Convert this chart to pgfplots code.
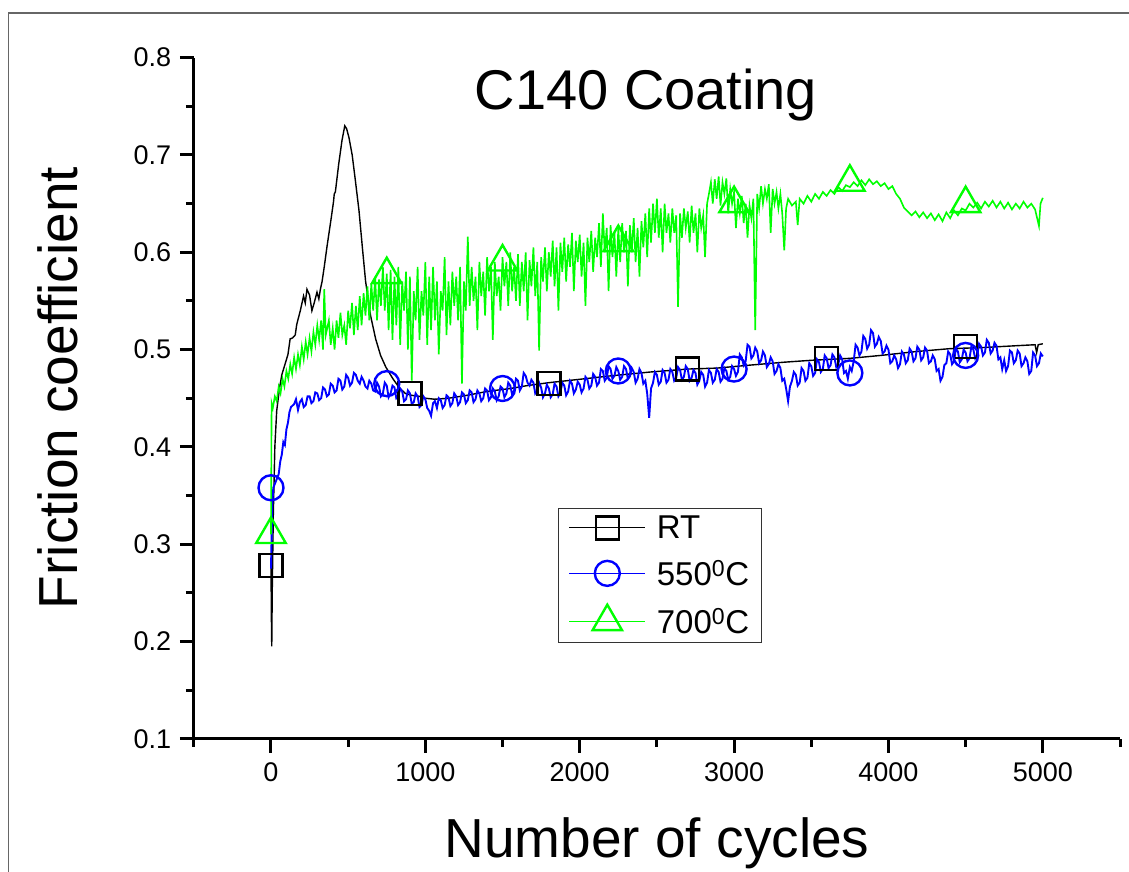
\documentclass[border=0pt]{standalone}
\usepackage{fontspec}
\setmainfont{Liberation Sans}
\usepackage{pgfplots}
\pgfplotsset{compat=1.18}
\definecolor{ogreen}{RGB}{0,255,0}
\definecolor{oblue}{RGB}{0,0,255}
\begin{document}
\begin{tikzpicture}
\useasboundingbox (0,0) rectangle (1129pt,872pt);
\draw[black!60, line width=1.6pt] (8.3pt,-2pt) -- (8.3pt,858.7pt) -- (1131pt,858.7pt);
\begin{axis}[
  at={(193.8pt,133.2pt)}, anchor=south west,
  scale only axis, width=926.2pt, height=681.1pt,
  xmin=-500, xmax=5500, ymin=0.1, ymax=0.8,
  axis lines*=left,
  axis line style={line width=3.2pt, black},
  xtick={0,1000,2000,3000,4000,5000},
  ytick={0.1,0.2,0.3,0.4,0.5,0.6,0.7,0.8},
  minor xtick={-500,500,1500,2500,3500,4500,5500},
  minor ytick={0.15,0.25,0.35,0.45,0.55,0.65,0.75},
  tick align=outside,
  major tick length=14pt, minor tick length=8pt,
  every tick/.style={line width=3pt, black},
  scaled ticks=false,
  /pgf/number format/assume math mode=true,
  /pgf/number format/1000 sep={},
  x tick label style={font=\fontsize{27}{27}\selectfont, yshift=-6pt},
  y tick label style={font=\fontsize{27}{27}\selectfont, xshift=-5pt, /pgf/number format/.cd, fixed, fixed zerofill, precision=1},
  legend style={at={(0.3935,0.3384)}, anchor=north west, draw=black!80, line width=1pt, fill=white,
    font=\fontsize{33}{33}\selectfont, inner xsep=10pt, inner ysep=5pt, row sep=16pt,
    /tikz/every odd column/.append style={column sep=9pt},
    /tikz/every even column/.append style={column sep=0pt}},
  legend cell align=left,
  legend image code/.code={\draw[mark repeat=2,mark phase=2] plot coordinates {(0pt,0pt)(38pt,0pt)(76pt,0pt)};},
]
\addlegendimage{black, line width=1.1pt, mark=square, mark size=11.5pt, mark options={fill=white, line width=2.4pt, solid}}
\addlegendentry{RT}
\addlegendimage{oblue, line width=1.1pt, mark=o, mark size=12.5pt, mark options={fill=white, line width=2.4pt, solid}}
\addlegendentry{550\textsuperscript{0}C}
\addlegendimage{ogreen, line width=1.1pt, mark=triangle, mark size=17pt, mark options={fill=white, line width=2.4pt, solid}}
\addlegendentry{700\textsuperscript{0}C}

% RT line
\addplot[black, line width=1.4pt, forget plot] coordinates {
(0,0.278)(3,0.22)(5,0.195)(8,0.25)(15,0.33)(25,0.40)(37,0.437)(55,0.46)(70,0.474)(91,0.485)(110,0.495)(124,0.511)(140,0.512)(157,0.515)(167,0.526)(190,0.540)(211,0.555)(222,0.548)(233,0.562)(250,0.556)(265,0.540)(280,0.548)(298,0.559)(310,0.552)(320,0.562)(331,0.570)(345,0.585)(363,0.606)(390,0.635)(405,0.652)(410,0.660)(417,0.662)(439,0.691)(460,0.715)(478,0.730)(490,0.727)(505,0.718)(526,0.700)(548,0.672)(570,0.643)(592,0.605)(613,0.570)(645,0.535)(678,0.511)(710,0.494)(744,0.482)(790,0.470)(830,0.461)(870,0.455)(911,0.453)(960,0.452)(1000,0.450)(1060,0.449)(1150,0.450)(1270,0.453)(1400,0.457)(1550,0.460)(1660,0.463)(1800,0.466)(2030,0.470)(2200,0.473)(2460,0.477)(2700,0.480)(2890,0.481)(3100,0.484)(3320,0.487)(3500,0.489)(3750,0.491)(3950,0.494)(4180,0.498)(4400,0.501)(4600,0.502)(4830,0.504)(4950,0.505)(4960,0.497)(4970,0.505)(5000,0.506)
};
\addplot[only marks, mark=square, mark size=11.5pt, mark options={draw=black, fill=white, line width=2.4pt}, forget plot] coordinates {
(0,0.278)(900,0.455)(1800,0.465)(2700,0.480)(3600,0.491)(4500,0.503)
};

% 550 C line
\addplot[oblue, line width=1.9pt, forget plot] coordinates {
(0,0.275)(8,0.340)(15,0.358)(25,0.362)(40,0.368)(50,0.372)(60,0.385)(70,0.392)(80,0.405)(90,0.402)(100,0.418)(110,0.425)(120,0.436)(130,0.441)
(150,0.444)(162,0.449)(175,0.438)(187,0.446)(200,0.449)(212,0.441)(225,0.443)(237,0.452)(250,0.452)(262,0.445)(275,0.447)(287,0.456)(300,0.455)(312,0.448)(325,0.450)(337,0.461)(350,0.459)(362,0.452)(375,0.454)(387,0.465)(400,0.463)(412,0.456)(425,0.458)(437,0.470)(450,0.468)(462,0.459)(475,0.462)(487,0.474)(500,0.471)(512,0.463)(525,0.466)(537,0.476)(550,0.474)(562,0.468)(575,0.465)(587,0.472)(600,0.468)(612,0.462)(625,0.460)(637,0.468)(650,0.465)(662,0.458)(675,0.457)(687,0.466)(700,0.462)(712,0.452)(725,0.455)(737,0.466)(750,0.463)(762,0.451)(775,0.455)(787,0.463)(800,0.461)(812,0.450)(825,0.452)(837,0.460)(850,0.457)(862,0.447)(875,0.449)(887,0.458)(900,0.455)(912,0.444)(925,0.446)(937,0.455)(950,0.452)(962,0.441)(975,0.443)(987,0.452)
(1000,0.449)(1012,0.440)(1025,0.437)(1037,0.432)(1050,0.445)(1062,0.447)(1075,0.440)(1087,0.450)(1100,0.448)(1112,0.440)(1125,0.443)(1137,0.453)(1150,0.451)(1162,0.442)(1175,0.445)(1187,0.455)(1200,0.452)(1212,0.443)(1225,0.446)(1237,0.456)(1250,0.454)(1262,0.445)(1275,0.448)(1287,0.458)(1300,0.456)(1312,0.446)(1325,0.449)(1337,0.458)(1350,0.455)(1362,0.447)(1375,0.450)(1387,0.460)(1400,0.458)(1412,0.448)(1425,0.451)(1437,0.460)(1450,0.457)(1462,0.448)(1475,0.452)(1487,0.462)
(1500,0.460)(1512,0.451)(1525,0.455)(1537,0.466)(1550,0.463)(1562,0.454)(1575,0.458)(1587,0.470)(1600,0.468)(1612,0.458)(1625,0.462)(1637,0.476)(1650,0.473)(1662,0.466)(1675,0.463)(1687,0.469)(1700,0.466)(1712,0.455)(1725,0.458)(1737,0.466)(1750,0.461)(1762,0.451)(1775,0.455)(1787,0.464)(1800,0.460)(1812,0.451)(1825,0.454)(1837,0.465)(1850,0.462)(1862,0.452)(1875,0.456)(1887,0.466)(1900,0.463)(1912,0.453)(1925,0.457)(1937,0.468)(1950,0.465)(1962,0.455)(1975,0.459)(1987,0.467)
(2000,0.464)(2012,0.456)(2025,0.460)(2037,0.472)(2050,0.469)(2062,0.460)(2075,0.463)(2087,0.475)(2100,0.472)(2112,0.463)(2125,0.466)(2137,0.480)(2150,0.478)(2162,0.468)(2175,0.471)(2187,0.483)(2200,0.480)(2212,0.470)(2225,0.473)(2237,0.482)(2250,0.478)(2262,0.469)(2275,0.472)(2287,0.483)(2300,0.480)(2312,0.470)(2325,0.473)(2337,0.481)(2350,0.477)(2362,0.466)(2375,0.470)(2387,0.480)(2400,0.476)(2412,0.465)(2425,0.468)(2437,0.455)(2450,0.430)(2462,0.460)(2475,0.466)(2487,0.477)
(2500,0.474)(2512,0.464)(2525,0.467)(2537,0.479)(2550,0.476)(2562,0.466)(2575,0.469)(2587,0.480)(2600,0.477)(2612,0.468)(2625,0.471)(2637,0.482)(2650,0.479)(2662,0.469)(2675,0.472)(2687,0.483)(2700,0.480)(2712,0.468)(2725,0.471)(2737,0.479)(2750,0.476)(2762,0.464)(2775,0.468)(2787,0.477)(2800,0.474)(2812,0.462)(2825,0.466)(2837,0.479)(2850,0.476)(2862,0.466)(2875,0.469)(2887,0.480)(2900,0.477)(2912,0.467)(2925,0.470)(2937,0.481)(2950,0.478)(2962,0.469)(2975,0.472)(2987,0.483)
(3000,0.480)(3012,0.473)(3025,0.477)(3037,0.495)(3050,0.492)(3062,0.484)(3075,0.488)(3087,0.505)(3100,0.503)(3112,0.491)(3125,0.494)(3137,0.502)(3150,0.498)(3162,0.486)(3175,0.489)(3187,0.498)(3200,0.494)(3212,0.482)(3225,0.485)(3237,0.492)(3250,0.488)(3262,0.475)(3275,0.478)(3287,0.485)(3300,0.481)(3312,0.468)(3325,0.470)(3337,0.460)(3350,0.447)(3362,0.462)(3375,0.468)(3387,0.477)(3400,0.474)(3412,0.463)(3425,0.466)(3437,0.481)(3450,0.478)(3462,0.468)(3475,0.471)(3487,0.486)
(3500,0.483)(3512,0.473)(3525,0.476)(3537,0.490)(3550,0.487)(3562,0.477)(3575,0.480)(3587,0.494)(3600,0.491)(3612,0.481)(3625,0.484)(3637,0.495)(3650,0.492)(3662,0.482)(3675,0.485)(3687,0.494)(3700,0.490)(3712,0.476)(3725,0.478)(3737,0.470)(3750,0.482)(3762,0.478)(3775,0.488)(3787,0.505)(3800,0.502)(3812,0.494)(3825,0.498)(3837,0.514)(3850,0.511)(3862,0.501)(3875,0.505)(3887,0.520)(3900,0.517)(3912,0.503)(3925,0.506)(3937,0.513)(3950,0.509)(3962,0.496)(3975,0.498)(3987,0.504)
(4000,0.500)(4012,0.486)(4025,0.488)(4037,0.494)(4050,0.490)(4062,0.481)(4075,0.485)(4087,0.498)(4100,0.495)(4112,0.486)(4125,0.489)(4137,0.501)(4150,0.498)(4162,0.488)(4175,0.491)(4187,0.503)(4200,0.500)(4212,0.489)(4225,0.492)(4237,0.502)(4250,0.499)(4262,0.486)(4275,0.488)(4287,0.494)(4300,0.490)(4312,0.478)(4325,0.480)(4337,0.468)(4350,0.472)(4362,0.484)(4375,0.486)(4387,0.498)(4400,0.495)(4412,0.485)(4425,0.488)(4437,0.501)(4450,0.498)(4462,0.487)(4475,0.490)(4487,0.500)
(4500,0.497)(4512,0.488)(4525,0.491)(4537,0.503)(4550,0.500)(4562,0.491)(4575,0.494)(4587,0.506)(4600,0.503)(4612,0.494)(4625,0.497)(4637,0.510)(4650,0.507)(4662,0.496)(4675,0.499)(4687,0.507)(4700,0.504)(4712,0.490)(4725,0.492)(4737,0.480)(4750,0.489)(4762,0.478)(4775,0.483)(4787,0.499)(4800,0.497)(4812,0.486)(4825,0.489)(4837,0.499)(4850,0.496)(4862,0.483)(4875,0.486)(4887,0.492)(4900,0.488)(4912,0.475)(4925,0.478)(4937,0.497)(4950,0.494)(4962,0.483)(4975,0.486)(4987,0.496)(5000,0.493)
};
\addplot[only marks, mark=o, mark size=12.5pt, mark options={draw=oblue, fill=white, line width=2.4pt}, forget plot] coordinates {
(0,0.358)(750,0.465)(1500,0.460)(2250,0.478)(3000,0.480)(3750,0.476)(4500,0.494)
};

% 700 C line
\addplot[ogreen, line width=1.6pt, forget plot] coordinates {
(0,0.310)(4,0.445)(12,0.440)(25,0.452)(37,0.447)(50,0.462)(62,0.455)(75,0.470)(87,0.462)(100,0.478)(112,0.470)(125,0.485)(137,0.475)(150,0.492)(162,0.480)(175,0.495)(187,0.484)(200,0.503)(212,0.490)(225,0.508)(237,0.495)(250,0.512)(262,0.498)(275,0.518)(287,0.505)(300,0.525)(312,0.510)(325,0.530)(337,0.500)(345,0.562)(355,0.515)(375,0.530)(387,0.505)(400,0.522)(412,0.500)(425,0.530)(437,0.512)(450,0.538)(462,0.515)(475,0.525)(487,0.505)
(500,0.540)(512,0.522)(525,0.548)(537,0.515)(550,0.545)(562,0.520)(575,0.555)(587,0.525)(600,0.558)(612,0.535)(625,0.565)(637,0.530)(650,0.568)(662,0.540)(675,0.575)(687,0.530)(700,0.572)(712,0.545)(725,0.585)(737,0.540)(750,0.578)(762,0.520)(775,0.582)(787,0.510)(800,0.575)(812,0.525)(825,0.585)(837,0.505)(850,0.570)(862,0.540)(875,0.580)(887,0.500)(900,0.575)(912,0.468)(925,0.560)(937,0.530)(950,0.585)(962,0.510)(975,0.560)(987,0.535)
(1000,0.590)(1012,0.505)(1025,0.575)(1037,0.520)(1050,0.585)(1062,0.530)(1075,0.570)(1087,0.495)(1100,0.560)(1112,0.540)(1125,0.595)(1137,0.515)(1150,0.570)(1162,0.525)(1175,0.580)(1187,0.545)(1200,0.575)(1212,0.530)(1225,0.585)(1237,0.465)(1250,0.570)(1262,0.540)(1275,0.616)(1287,0.545)(1300,0.585)(1312,0.550)(1325,0.575)(1337,0.520)(1350,0.590)(1362,0.555)(1375,0.580)(1387,0.535)(1400,0.595)(1412,0.560)(1425,0.585)(1437,0.510)(1450,0.590)(1462,0.555)(1475,0.575)(1487,0.540)
(1500,0.595)(1512,0.565)(1525,0.590)(1537,0.545)(1550,0.600)(1562,0.560)(1575,0.585)(1587,0.550)(1600,0.598)(1612,0.545)(1625,0.590)(1637,0.560)(1650,0.600)(1662,0.530)(1675,0.592)(1687,0.565)(1700,0.605)(1712,0.555)(1725,0.590)(1737,0.499)(1750,0.595)(1762,0.570)(1775,0.605)(1787,0.560)(1800,0.600)(1812,0.575)(1825,0.612)(1837,0.565)(1850,0.605)(1862,0.540)(1875,0.610)(1887,0.580)(1900,0.615)(1912,0.570)(1925,0.608)(1937,0.585)(1950,0.620)(1962,0.560)(1975,0.612)(1987,0.590)
(2000,0.618)(2012,0.575)(2025,0.610)(2037,0.545)(2050,0.615)(2062,0.590)(2075,0.622)(2087,0.580)(2100,0.615)(2112,0.595)(2125,0.630)(2137,0.585)(2150,0.640)(2162,0.600)(2175,0.625)(2187,0.560)(2200,0.628)(2212,0.595)(2225,0.620)(2237,0.575)(2250,0.625)(2262,0.590)(2275,0.630)(2287,0.600)(2300,0.622)(2312,0.565)(2325,0.628)(2337,0.600)(2350,0.635)(2362,0.590)(2375,0.625)(2387,0.575)(2400,0.632)(2412,0.605)(2425,0.640)(2437,0.595)(2450,0.645)(2462,0.610)(2475,0.650)(2487,0.620)
(2500,0.655)(2512,0.615)(2525,0.645)(2537,0.600)(2550,0.650)(2562,0.620)(2575,0.640)(2587,0.610)(2600,0.645)(2612,0.620)(2625,0.638)(2637,0.544)(2650,0.640)(2662,0.615)(2675,0.645)(2687,0.625)(2700,0.642)(2712,0.610)(2725,0.648)(2737,0.620)(2750,0.640)(2762,0.600)(2775,0.645)(2787,0.625)(2800,0.638)(2812,0.595)(2825,0.650)(2837,0.660)(2850,0.672)(2862,0.650)(2875,0.675)(2887,0.655)(2900,0.678)(2912,0.648)(2925,0.672)(2937,0.660)(2950,0.676)(2962,0.640)(2975,0.665)(2987,0.650)
(3000,0.662)(3012,0.625)(3025,0.655)(3037,0.640)(3050,0.658)(3062,0.630)(3075,0.650)(3087,0.615)(3100,0.648)(3112,0.635)(3125,0.655)(3137,0.520)(3150,0.660)(3162,0.645)(3175,0.668)(3187,0.650)(3200,0.665)(3212,0.655)(3225,0.670)(3237,0.620)(3250,0.665)(3262,0.650)(3275,0.662)(3287,0.645)(3300,0.660)(3312,0.640)(3325,0.602)(3337,0.645)(3350,0.655)(3375,0.648)(3400,0.652)(3412,0.628)(3425,0.655)(3450,0.650)(3475,0.658)
(3500,0.652)(3525,0.660)(3550,0.655)(3575,0.662)(3600,0.658)(3625,0.664)(3650,0.660)(3675,0.667)(3700,0.663)(3725,0.669)(3750,0.667)(3775,0.672)(3800,0.668)(3825,0.674)(3850,0.669)(3875,0.675)(3900,0.670)(3925,0.673)(3950,0.668)(3975,0.671)
(4000,0.665)(4025,0.668)(4050,0.660)(4075,0.655)(4100,0.646)(4125,0.642)(4150,0.638)(4175,0.642)(4200,0.636)(4225,0.641)(4250,0.635)(4275,0.640)(4300,0.633)(4325,0.639)(4350,0.632)(4375,0.641)(4400,0.635)(4425,0.643)(4450,0.638)(4475,0.645)
(4500,0.643)(4525,0.650)(4550,0.646)(4575,0.651)(4600,0.645)(4625,0.652)(4650,0.647)(4675,0.653)(4700,0.646)(4725,0.652)(4750,0.645)(4775,0.651)(4800,0.644)(4825,0.650)(4850,0.645)(4875,0.652)(4900,0.646)(4925,0.650)(4950,0.644)(4975,0.627)(4985,0.650)(5000,0.656)
};
\addplot[only marks, mark=triangle, mark size=17pt, mark options={draw=ogreen, fill=white, line width=2.4pt}, forget plot] coordinates {
(0,0.310)(750,0.577)(1500,0.590)(2250,0.610)(3000,0.650)(3750,0.672)(4500,0.650)
};
\end{axis}
\node[anchor=base, font=\fontsize{56}{56}\selectfont] at (646pt,762pt) {C140 Coating};
\node[anchor=base, font=\fontsize{55}{55}\selectfont] at (657pt,14pt) {Number of cycles};
\node[anchor=base, rotate=90, font=\fontsize{55}{55}\selectfont] at (77pt,484pt) {Friction coefficient};
\end{tikzpicture}
\end{document}
